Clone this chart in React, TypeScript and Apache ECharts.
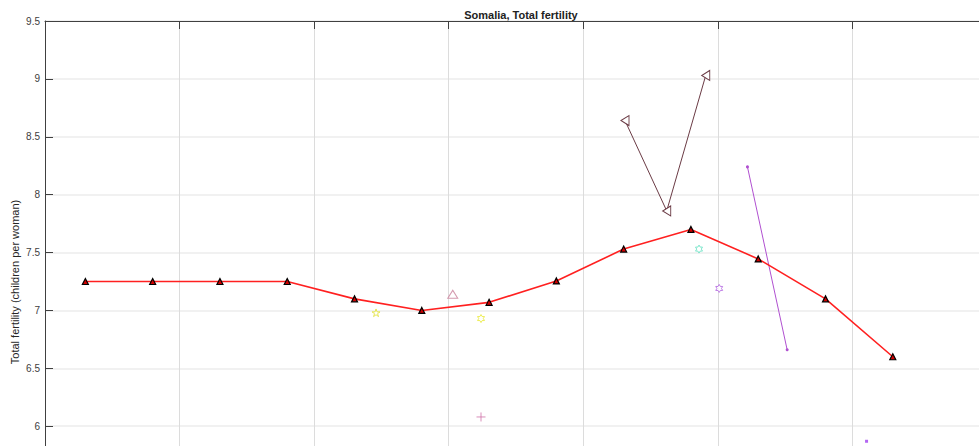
import React, { useEffect, useRef } from "react";
import * as echarts from "echarts";

const title = "Somalia, Total fertility";
const yAxisName = "Total fertility (children per woman)";

// Main series (red line with triangles)
const mainYears = [1953, 1958, 1963, 1968, 1973, 1978, 1983, 1988, 1993, 1998, 2003, 2008, 2013];
const mainValues = [7.25, 7.25, 7.25, 7.25, 7.1, 7.0, 7.07, 7.255, 7.53, 7.7, 7.445, 7.1, 6.6];

// Other sources
const pinkTriangle = [[1980.3, 7.14]];
const yellowStar = [[1974.6, 6.98]];
const yellowHexagram = [[1982.4, 6.93]];
const pinkPlus = [[1982.4, 6.08]];
const maroonLine = [[1993.1, 8.64], [1996.2, 7.86], [1999.1, 9.03]];
const cyanHexagram = [[1998.6, 7.53]];
const purpleHexagram = [[2000.1, 7.19]];
const purpleLine = [[2002.2, 8.24], [2005.15, 6.66]];
const purpleDot = [[2011.05, 5.87]];

const HEXAGRAM =
  "path://M0,-10L2.887,-5L8.66,-5L5.774,0L8.66,5L2.887,5L0,10L-2.887,5L-8.66,5L-5.774,0L-8.66,-5L-2.887,-5Z";
const STAR =
  "path://M0,-10L2.245,-3.09L9.511,-3.09L3.633,1.18L5.878,8.09L0,3.82L-5.878,8.09L-3.633,1.18L-9.511,-3.09L-2.245,-3.09Z";
const PLUS = "path://M-10,0L10,0M0,-10L0,10";

const FONT = "'Liberation Sans', Arial, Helvetica, sans-serif";

export default function App() {
  const ref = useRef<HTMLDivElement>(null);
  useEffect(() => {
    if (!ref.current) return;
    const chart = echarts.init(ref.current, null, { renderer: "svg" });
    const hollow = (color: string) => ({ color: "#ffffff", borderColor: color, borderWidth: 1 });
    chart.setOption({
      animation: false,
      backgroundColor: "#ffffff",
      textStyle: { fontFamily: FONT },
      title: {
        text: title,
        left: 516,
        textAlign: "center",
        top: 4,
        textStyle: { fontSize: 11, fontWeight: "bold", color: "#222", fontFamily: FONT },
      },
      graphic: [
        {
          type: "text",
          x: 15,
          y: 282,
          rotation: Math.PI / 2,
          style: {
            text: yAxisName,
            fontSize: 11,
            fill: "#262626",
            fontFamily: FONT,
            align: "center",
            verticalAlign: "middle",
          },
        },
      ],
      grid: { left: 45, top: 21, right: 1, bottom: 3, containLabel: false, outerBoundsMode: "none" },
      xAxis: [
        {
          type: "value",
          min: 1950,
          max: 2020,
          interval: 10,
          position: "bottom",
          axisLine: { show: true, lineStyle: { color: "#404040" } },
          axisTick: { show: true, inside: true, length: 8, lineStyle: { color: "#404040" } },
          axisLabel: { show: false },
          splitLine: { show: true, lineStyle: { color: "#dcdcdc", width: 1 } },
        },
        {
          type: "value",
          min: 1950,
          max: 2020,
          interval: 10,
          position: "top",
          axisLine: { show: true, lineStyle: { color: "#404040" } },
          axisTick: { show: true, inside: true, length: 8, lineStyle: { color: "#404040" } },
          axisLabel: { show: false },
          splitLine: { show: false },
        },
      ],
      yAxis: [
        {
          type: "value",
          min: 5,
          max: 9.5,
          interval: 0.5,
          position: "left",
          axisLine: { show: true, lineStyle: { color: "#404040" } },
          axisTick: { show: true, inside: true, length: 8, lineStyle: { color: "#404040" } },
          axisLabel: {
            show: true,
            margin: 5,
            fontSize: 10,
            color: "#404040",
            fontFamily: FONT,
            formatter: (v: number) => (v < 6 ? "" : String(v)),
          },
          splitLine: { show: true, lineStyle: { color: "#ececec", width: 1.5 } },
        },
        {
          type: "value",
          min: 5,
          max: 9.5,
          interval: 0.5,
          position: "right",
          axisLine: { show: true, lineStyle: { color: "#404040" } },
          axisTick: { show: true, inside: true, length: 8, lineStyle: { color: "#404040" } },
          axisLabel: { show: false },
          splitLine: { show: false },
        },
      ],
      series: [
        {
          type: "line",
          data: mainYears.map((y, i) => [y, mainValues[i]]),
          symbol: "triangle",
          symbolSize: 6,
          lineStyle: { color: "#ff2020", width: 1.6 },
          itemStyle: { color: "#d00000", borderColor: "#000000", borderWidth: 1.2 },
          z: 5,
        },
        {
          type: "scatter",
          data: pinkTriangle,
          symbol: "triangle",
          symbolSize: [10, 8],
          itemStyle: hollow("#c8809a"),
        },
        {
          type: "scatter",
          data: yellowStar,
          symbol: STAR,
          symbolKeepAspect: true,
          symbolSize: 8,
          itemStyle: hollow("#e0e030"),
        },
        {
          type: "scatter",
          data: yellowHexagram,
          symbol: HEXAGRAM,
          symbolKeepAspect: true,
          symbolSize: 8,
          itemStyle: hollow("#e8e830"),
        },
        {
          type: "scatter",
          data: pinkPlus,
          symbol: PLUS,
          symbolKeepAspect: true,
          symbolSize: 9,
          itemStyle: { color: "none", borderColor: "#d070a8", borderWidth: 1 },
        },
        {
          type: "line",
          data: maroonLine,
          symbol: "triangle",
          symbolRotate: 90,
          symbolSize: [10, 8],
          lineStyle: { color: "#6b3b45", width: 1 },
          itemStyle: hollow("#6b3b45"),
        },
        {
          type: "scatter",
          data: cyanHexagram,
          symbol: HEXAGRAM,
          symbolKeepAspect: true,
          symbolSize: 8,
          itemStyle: hollow("#60e0c0"),
        },
        {
          type: "scatter",
          data: purpleHexagram,
          symbol: HEXAGRAM,
          symbolKeepAspect: true,
          symbolSize: 8,
          itemStyle: hollow("#b060e0"),
        },
        {
          type: "line",
          data: purpleLine,
          symbol: "circle",
          symbolSize: 3,
          lineStyle: { color: "#b050d0", width: 1 },
          itemStyle: { color: "#b050d0" },
        },
        {
          type: "scatter",
          data: purpleDot,
          symbol: "rect",
          symbolSize: 3,
          itemStyle: { color: "#a040f0" },
        },
      ],
    });
    return () => chart.dispose();
  }, []);
  return (
    <div
      style={{ position: "fixed", left: 0, top: 0, width: 979, height: 446, overflow: "hidden", background: "#fff" }}
    >
      <div ref={ref} style={{ position: "absolute", left: 0, top: 0, width: 988, height: 545 }} />
    </div>
  );
}
